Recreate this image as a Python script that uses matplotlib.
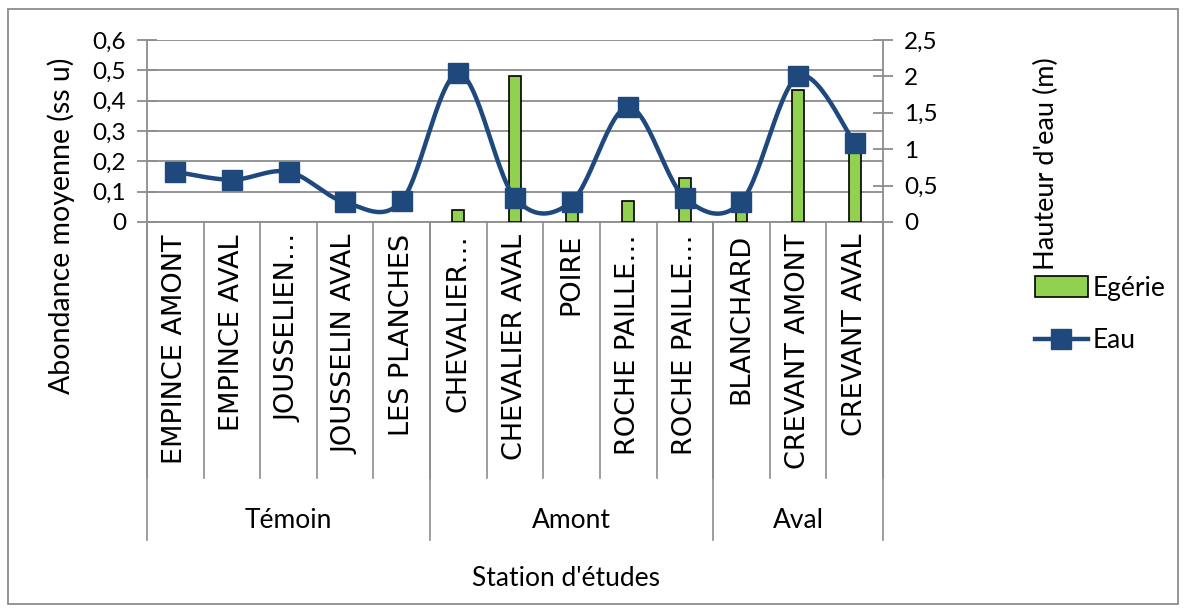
import matplotlib
matplotlib.use('Agg')
import matplotlib.pyplot as plt
import numpy as np
from matplotlib.lines import Line2D
from matplotlib.patches import Patch, Rectangle

# station labels as shown (truncated ones kept as in the chart)
stations = ['EMPINCE AMONT', 'EMPINCE AVAL', 'JOUSSELIEN…', 'JOUSSELIN AVAL',
            'LES PLANCHES', 'CHEVALIER…', 'CHEVALIER AVAL', 'POIRE',
            'ROCHE PAILLE…', 'ROCHE PAILLE…', 'BLANCHARD', 'CREVANT AMONT',
            'CREVANT AVAL']
groups = ['Témoin', 'Amont', 'Aval']
group_sizes = [5, 5, 3]

# Egérie abundance (left axis, ss u)
egerie = [0, 0, 0, 0, 0, 0.04, 0.48, 0.05, 0.07, 0.145, 0.05, 0.435, 0.26]
# water height (right axis, m)
eau = [0.69, 0.58, 0.69, 0.27, 0.29, 2.04, 0.33, 0.28, 1.58, 0.33, 0.28, 2.0, 1.09]

W, H = 1187, 610
fig = plt.figure(figsize=(W / 100, H / 100), dpi=100)
plt.rcParams['font.family'] = ['Lato', 'DejaVu Sans']

def fx(px):
    return px / W

def fy(py):
    return 1 - py / H

ax = fig.add_axes([fx(147), fy(222), fx(883) - fx(147), fy(40) - fy(222)])
ax2 = ax.twinx()

grey = '#8c8c8c'
blue = '#1F497D'
green = '#92D050'

x = np.arange(len(stations))
# empty bars get no outline (Excel draws nothing for 0)
lw = [1.2 if v > 0 else 0 for v in egerie]
ax.bar(x, egerie, width=0.21, color=green, edgecolor='black', linewidth=lw, zorder=3)
ax.set_xlim(-0.5, len(stations) - 0.5)
ax.set_ylim(0, 0.6)
ax.set_yticks(np.arange(0, 0.61, 0.1))
ax.set_yticklabels(['0'] + ['0,%d' % i for i in range(1, 7)])
ax.yaxis.grid(True, color=grey, linewidth=1.3, zorder=0)
ax.set_axisbelow(True)
ax.set_xticks([])

# smooth line like Excel (cubic bezier through points, catmull-rom tangents)
pts = np.column_stack([x, eau]).astype(float)
ext = np.vstack([pts[0], pts, pts[-1]])
curve = []
t = np.linspace(0, 1, 30)
for i in range(len(pts) - 1):
    p0, p1, p2, p3 = ext[i], ext[i + 1], ext[i + 2], ext[i + 3]
    c1 = p1 + (p2 - p0) / 6
    c2 = p2 - (p3 - p1) / 6
    seg = ((1 - t) ** 3)[:, None] * p1 + (3 * (1 - t) ** 2 * t)[:, None] * c1 \
        + (3 * (1 - t) * t ** 2)[:, None] * c2 + (t ** 3)[:, None] * p2
    curve.append(seg)
curve = np.vstack(curve)
ax2.plot(curve[:, 0], curve[:, 1], color=blue, linewidth=3.2, zorder=4)
ax2.plot(x, eau, linestyle='none', marker='s', markersize=14, color=blue, zorder=5)
ax2.set_ylim(0, 2.5)
ax2.set_yticks(np.arange(0, 2.51, 0.5))
ax2.set_yticklabels(['0', '0,5', '1', '1,5', '2', '2,5'])

for a in (ax, ax2):
    for s in a.spines.values():
        s.set_visible(False)
    a.tick_params(axis='y', direction='inout', length=14, width=1.3, color=grey,
                  labelsize=17.5, pad=8)
ax.spines['left'].set_visible(True)
ax.spines['left'].set_color(grey)
ax.spines['left'].set_linewidth(1.3)
ax2.spines['right'].set_visible(True)
ax2.spines['right'].set_color(grey)
ax2.spines['right'].set_linewidth(1.3)

# category area below the plot
tr = ax.get_xaxis_transform()
ax_h = 222 - 40
def ay(py):
    return (222 - py) / ax_h

ax.plot([-0.5, len(stations) - 0.5], [0, 0], transform=tr, color=grey,
        linewidth=1.3, clip_on=False, zorder=2)
for i in range(len(stations) + 1):
    ax.plot([i - 0.5, i - 0.5], [0, ay(478)], transform=tr, color=grey,
            linewidth=1.2, clip_on=False)
for i, name in enumerate(stations):
    ax.text(i, ay(234), name, transform=tr, rotation=90, ha='center', va='top',
            fontsize=19.5, family='DejaVu Sans', clip_on=False)

start = 0
bounds = [0]
for g, n in zip(groups, group_sizes):
    ax.text(start + (n - 1) / 2, ay(520), g, transform=tr, ha='center', va='center',
            fontsize=19, clip_on=False)
    start += n
    bounds.append(start)
for b in bounds:
    ax.plot([b - 0.5, b - 0.5], [0, ay(540)], transform=tr, color=grey,
            linewidth=1.2, clip_on=False)

fig.text(fx(566), fy(578), "Station d'études", ha='center', va='center', fontsize=19)
fig.text(fx(61), fy(226), 'Abondance moyenne (ss u)', rotation=90, ha='center',
         va='center', fontsize=20.5)
fig.text(fx(1046), fy(164), "Hauteur d'eau (m)", rotation=90, ha='center',
         va='center', fontsize=19.5)

handles = [Patch(facecolor=green, edgecolor='black', linewidth=1.2),
           Line2D([], [], color=blue, linewidth=3.2, marker='s', markersize=14)]
fig.legend(handles, ['Egérie', 'Eau'], loc='upper left', frameon=False,
           bbox_to_anchor=(fx(1011), fy(252)), fontsize=19, handlelength=2.0,
           handleheight=0.8, handletextpad=0.2, labelspacing=1.05)

fig.add_artist(Rectangle((fx(8), fy(604)), fx(1178) - fx(8), fy(9) - fy(604),
                         transform=fig.transFigure, fill=False, edgecolor=grey,
                         linewidth=1.3))

fig.savefig('out.png', dpi=100)
